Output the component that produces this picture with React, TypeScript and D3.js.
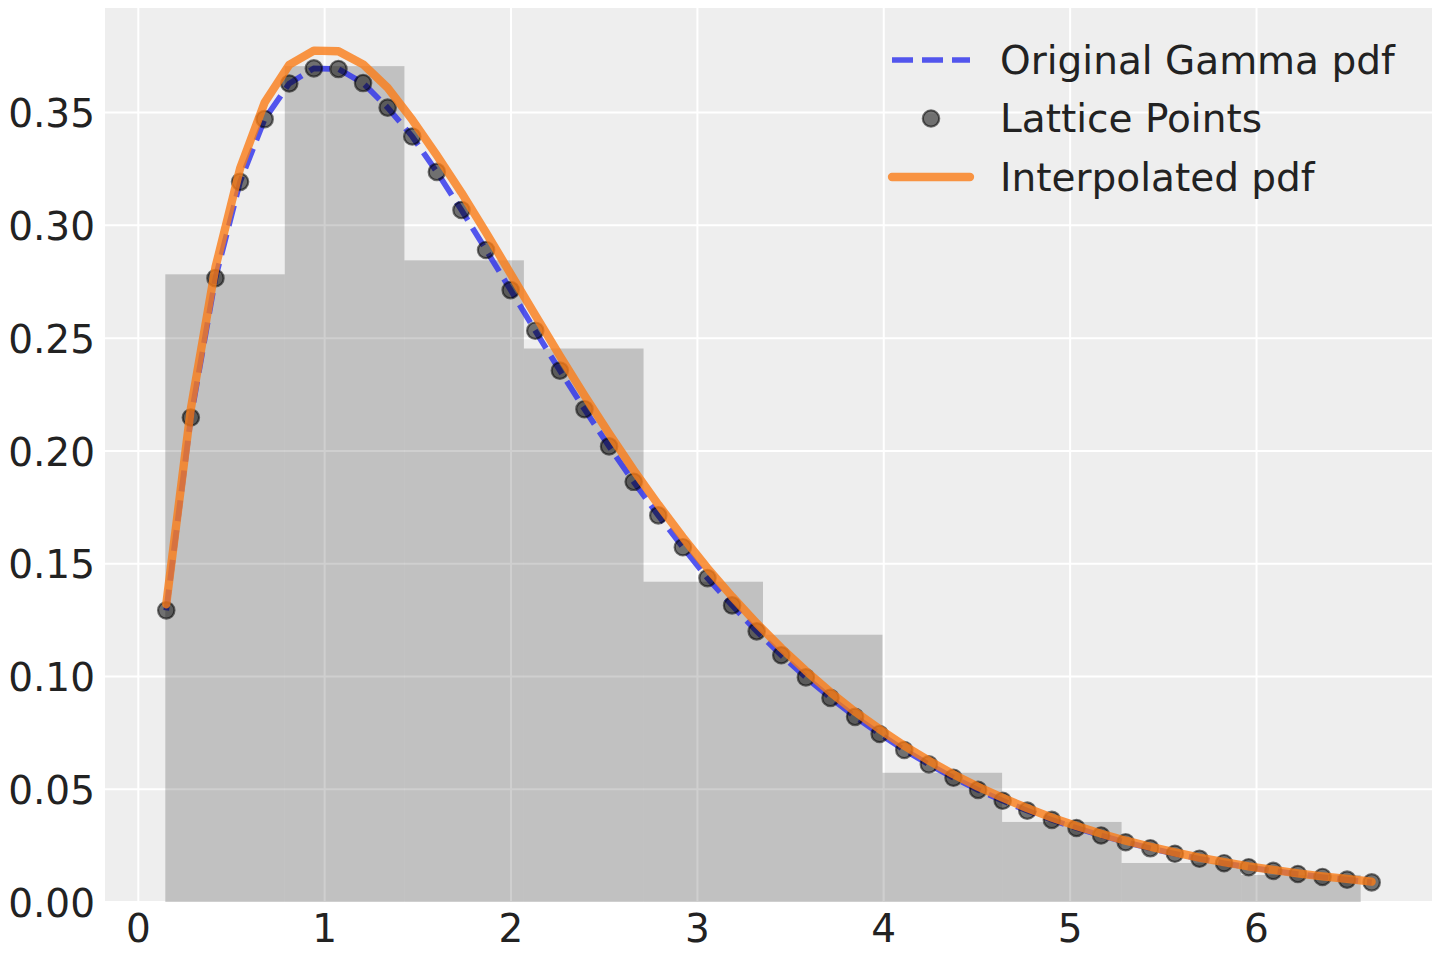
import { useRef, useEffect } from 'react';
import * as d3 from 'd3';

// lattice positions and the gamma pdf read at each of them
const latticeX = [
  0.150, 0.282, 0.414, 0.546, 0.678, 0.810, 0.942, 1.074, 1.206, 1.338,
  1.470, 1.602, 1.734, 1.866, 1.998, 2.130, 2.262, 2.394, 2.526, 2.658,
  2.790, 2.922, 3.054, 3.186, 3.318, 3.450, 3.582, 3.714, 3.846, 3.978,
  4.110, 4.242, 4.374, 4.506, 4.638, 4.770, 4.902, 5.034, 5.166, 5.298,
  5.430, 5.562, 5.694, 5.826, 5.958, 6.090, 6.222, 6.354, 6.486, 6.618,
];
const latticePdf = [
  0.1293, 0.2148, 0.2766, 0.3193, 0.3471, 0.3629, 0.3696, 0.3693, 0.3631, 0.3522,
  0.3394, 0.3237, 0.3068, 0.2891, 0.2713, 0.2533, 0.2356, 0.2185, 0.2020, 0.1863,
  0.1714, 0.1573, 0.1436, 0.1315, 0.1200, 0.1094, 0.0996, 0.0905, 0.0821, 0.0745,
  0.0674, 0.0610, 0.0551, 0.0497, 0.0449, 0.0405, 0.0364, 0.0328, 0.0295, 0.0265,
  0.0238, 0.0214, 0.0192, 0.0172, 0.0154, 0.0138, 0.0124, 0.0111, 0.0099, 0.0087,
];
// interpolated pdf (sits a little above the original one)
const interpPdf = [
  0.1320, 0.2187, 0.2814, 0.3252, 0.3545, 0.3712, 0.3775, 0.3772, 0.3714, 0.3610,
  0.3468, 0.3310, 0.3145, 0.2968, 0.2785, 0.2602, 0.2421, 0.2246, 0.2077, 0.1915,
  0.1762, 0.1617, 0.1480, 0.1354, 0.1236, 0.1126, 0.1025, 0.0930, 0.0844, 0.0766,
  0.0693, 0.0627, 0.0566, 0.0511, 0.0462, 0.0416, 0.0374, 0.0337, 0.0303, 0.0272,
  0.0245, 0.0220, 0.0197, 0.0177, 0.0158, 0.0142, 0.0127, 0.0114, 0.0102, 0.0090,
];
// histogram of the samples (density)
const binEdges = [0.145, 0.786, 1.428, 2.069, 2.711, 3.352, 3.993, 4.635, 5.276, 5.918, 6.559];
const binDensity = [0.2783, 0.3706, 0.2845, 0.2454, 0.1420, 0.1185, 0.0573, 0.0355, 0.0173, 0.0120];

const xTicks = [0, 1, 2, 3, 4, 5, 6];
const yTicks = [0, 0.05, 0.10, 0.15, 0.20, 0.25, 0.30, 0.35];
const legendLabels = ['Original Gamma pdf', 'Lattice Points', 'Interpolated pdf'];

const WIDTH = 1440;
const HEIGHT = 960;
const FONT = '"DejaVu Sans", sans-serif';
const FONT_SIZE = 39;

const BLUE = '#2a2eec';
const ORANGE = '#fa7c17';
const DASH = '21,9';

export default function App() {
  const svgRef = useRef<SVGSVGElement | null>(null);

  useEffect(() => {
    const margin = { top: 8, right: 8, bottom: 58, left: 105 };

    d3.select(svgRef.current).selectAll('*').remove();
    const svg = d3.select(svgRef.current)
      .attr('width', WIDTH)
      .attr('height', HEIGHT);

    // matplotlib style 5% margins around the data
    const xMin = Math.min(binEdges[0], latticeX[0]);
    const xMax = Math.max(binEdges[binEdges.length - 1], latticeX[latticeX.length - 1]);
    const xPad = (xMax - xMin) * 0.05;
    const yMax = Math.max(d3.max(interpPdf)!, d3.max(binDensity)!, d3.max(latticePdf)!);

    const x = d3.scaleLinear()
      .domain([xMin - xPad, xMax + xPad])
      .range([margin.left, WIDTH - margin.right]);
    const y = d3.scaleLinear()
      .domain([0, yMax * 1.05])
      .range([HEIGHT - margin.bottom, margin.top]);

    // background
    svg.append('rect')
      .attr('x', margin.left)
      .attr('y', margin.top)
      .attr('width', WIDTH - margin.left - margin.right)
      .attr('height', HEIGHT - margin.top - margin.bottom)
      .attr('fill', '#eeeeee');

    // grid
    const grid = svg.append('g').attr('stroke', '#ffffff').attr('stroke-width', 2);
    xTicks.forEach(t => {
      grid.append('line')
        .attr('x1', x(t)).attr('x2', x(t))
        .attr('y1', margin.top).attr('y2', HEIGHT - margin.bottom);
    });
    yTicks.forEach(t => {
      grid.append('line')
        .attr('x1', margin.left).attr('x2', WIDTH - margin.right)
        .attr('y1', y(t)).attr('y2', y(t));
    });

    // histogram bars
    svg.append('g')
      .selectAll('rect')
      .data(binDensity)
      .join('rect')
      .attr('x', (_, i) => x(binEdges[i]))
      .attr('width', (_, i) => x(binEdges[i + 1]) - x(binEdges[i]))
      .attr('y', d => y(d))
      .attr('height', d => y(0) - y(d))
      .attr('fill', '#000000')
      .attr('fill-opacity', 0.19);

    const pts = latticeX.map((v, i) => ({ x: v, pdf: latticePdf[i], interp: interpPdf[i] }));

    // original pdf, dashed
    const pdfLine = d3.line<typeof pts[number]>()
      .x(d => x(d.x))
      .y(d => y(d.pdf));
    svg.append('path')
      .datum(pts)
      .attr('d', pdfLine)
      .attr('fill', 'none')
      .attr('stroke', BLUE)
      .attr('stroke-opacity', 0.8)
      .attr('stroke-width', 5.7)
      .attr('stroke-dasharray', DASH);

    // lattice points
    svg.append('g')
      .selectAll('circle')
      .data(pts)
      .join('circle')
      .attr('cx', d => x(d.x))
      .attr('cy', d => y(d.pdf))
      .attr('r', 8.2)
      .attr('fill', '#000000')
      .attr('fill-opacity', 0.53)
      .attr('stroke', '#000000')
      .attr('stroke-opacity', 0.53)
      .attr('stroke-width', 2.2);

    // interpolated pdf
    const interpLine = d3.line<typeof pts[number]>()
      .x(d => x(d.x))
      .y(d => y(d.interp));
    svg.append('path')
      .datum(pts)
      .attr('d', interpLine)
      .attr('fill', 'none')
      .attr('stroke', ORANGE)
      .attr('stroke-opacity', 0.8)
      .attr('stroke-width', 8.3)
      .attr('stroke-linejoin', 'round')
      .attr('stroke-linecap', 'round');

    // tick labels
    const labels = svg.append('g')
      .attr('font-family', FONT)
      .attr('font-size', FONT_SIZE)
      .attr('fill', '#222222');
    xTicks.forEach(t => {
      labels.append('text')
        .attr('x', x(t))
        .attr('y', HEIGHT - margin.bottom + 39.5)
        .attr('text-anchor', 'middle')
        .text(d3.format('d')(t));
    });
    yTicks.forEach(t => {
      labels.append('text')
        .attr('x', margin.left - 10)
        .attr('y', y(t) + 14.6)
        .attr('text-anchor', 'end')
        .text(d3.format('.2f')(t));
    });

    // legend
    const legend = svg.append('g').attr('transform', 'translate(892, 60)');
    const rowH = 58.5;
    legend.append('line')
      .attr('x1', 0).attr('x2', 78).attr('y1', 0).attr('y2', 0)
      .attr('stroke', BLUE).attr('stroke-opacity', 0.8)
      .attr('stroke-width', 5.7).attr('stroke-dasharray', DASH);
    legend.append('circle')
      .attr('cx', 39).attr('cy', rowH).attr('r', 8.2)
      .attr('fill', '#000000').attr('fill-opacity', 0.53)
      .attr('stroke', '#000000').attr('stroke-opacity', 0.53).attr('stroke-width', 2.2);
    legend.append('line')
      .attr('x1', 0).attr('x2', 78).attr('y1', rowH * 2).attr('y2', rowH * 2)
      .attr('stroke', ORANGE).attr('stroke-opacity', 0.8)
      .attr('stroke-width', 8.3).attr('stroke-linecap', 'round');
    legendLabels.forEach((lab, i) => {
      legend.append('text')
        .attr('x', 108)
        .attr('y', i * rowH + 13.5)
        .attr('font-family', FONT)
        .attr('font-size', FONT_SIZE)
        .attr('fill', '#222222')
        .text(lab);
    });
  }, []);

  return <svg ref={svgRef} style={{ position: 'absolute', left: 0, top: 0 }}></svg>;
}
